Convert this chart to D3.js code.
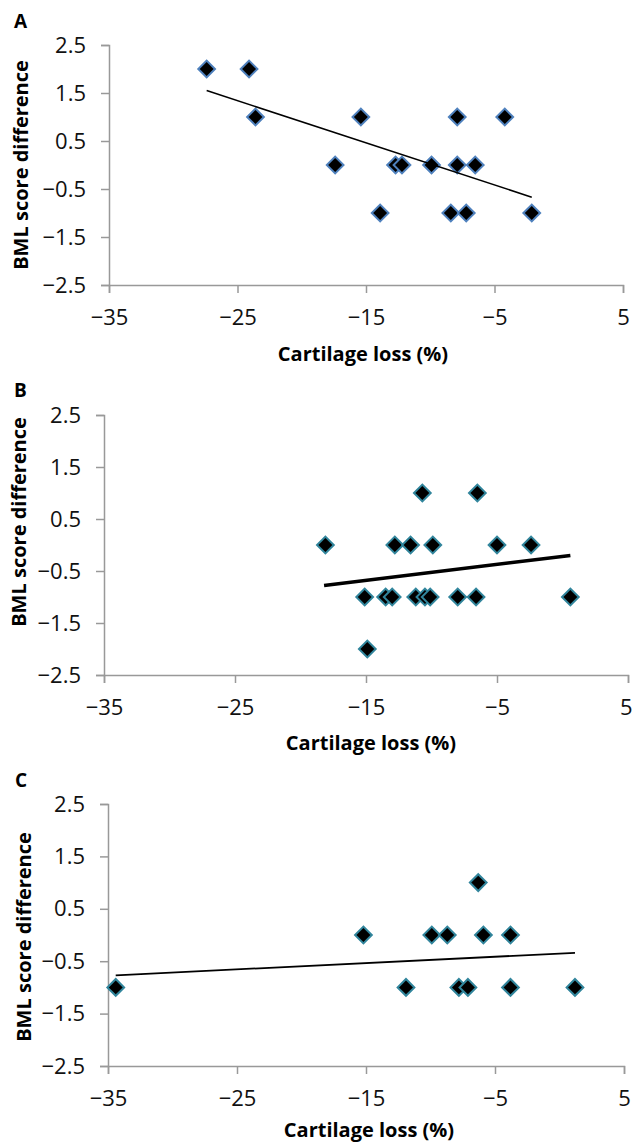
<!DOCTYPE html>
<html>
<head>
<meta charset="utf-8">
<script src="https://cdn.jsdelivr.net/npm/d3@7"></script>
<style>
  body { margin: 0; background: #fff; }
  svg { display: block; }
  .tick text { font-family: "Open Sans", sans-serif; font-size: 22px; fill: #111; }
  .axis path, .axis line { stroke: #999; stroke-width: 1.5; }
  .title { font-family: "Open Sans", sans-serif; font-size: 20px; font-weight: bold; }
</style>
</head>
<body>
<div id="chart"></div>
<script>
// Values (cartilage loss %, BML score difference)
const aX = [-27.4, -24.1, -23.6, -17.4, -15.4, -13.9, -12.7, -12.2, -9.9, -8.4, -7.9, -7.9, -7.2, -6.5, -4.2, -2.1];
const aY = [2, 2, 1, 0, 1, -1, 0, 0, 0, -1, 1, 0, -1, 0, 1, -1];

const bX = [-18.1, -15.1, -14.9, -13.5, -13.0, -12.8, -11.6, -11.2, -10.7, -10.5, -10.1, -9.9, -8.0, -6.6, -6.5, -5.0, -2.4, 0.6];
const bY = [0, -1, -2, -1, -1, 0, 0, -1, 1, -1, -1, 0, -1, -1, 1, 0, 0, -1];

const cX = [-34.4, -15.2, -11.9, -9.9, -8.7, -7.8, -7.1, -6.3, -5.9, -3.8, -3.8, 1.2];
const cY = [-1, 0, -1, 0, 0, -1, -1, 1, 0, 0, -1, -1];

// linear trendlines, start and end points
const trendA = [[-27.4, 1.55], [-2.1, -0.67]];
const trendB = [[-18.2, -0.78], [0.6, -0.20]];
const trendC = [[-34.4, -0.77], [1.2, -0.34]];

const xTicks = [-35, -25, -15, -5, 5];
const yTicks = [2.5, 1.5, 0.5, -0.5, -1.5, -2.5];

const width = 633;
const height = 1142;

const svg = d3.select("#chart")
    .append("svg")
    .attr("width", width)
    .attr("height", height);

const panels = [
    { letter: "A", xs: aX, ys: aY, trend: trendA, color: "#4f81bd", lineW: 1.6,
      left: 109, right: 623, top: 45, bottom: 285,
      letterX: 14, letterY: 28, yTitleX: 28, yTitleY: 165, xTitleX: 363, xTitleY: 361 },
    { letter: "B", xs: bX, ys: bY, trend: trendB, color: "#31859c", lineW: 3.5,
      left: 104, right: 628, top: 415, bottom: 675,
      letterX: 14, letterY: 397, yTitleX: 26, yTitleY: 522, xTitleX: 371, xTitleY: 750 },
    { letter: "C", xs: cX, ys: cY, trend: trendC, color: "#31859c", lineW: 1.8,
      left: 108, right: 624, top: 804, bottom: 1066,
      letterX: 15, letterY: 787, yTitleX: 31, yTitleY: 937, xTitleX: 369, xTitleY: 1137 }
];

const diamond = d3.symbol().type(d3.symbolSquare).size(140);

panels.forEach(p => {
    const xScale = d3.scaleLinear().domain([-35, 5]).range([p.left, p.right]);
    const yScale = d3.scaleLinear().domain([-2.5, 2.5]).range([p.bottom, p.top]);

    const g = svg.append("g");

    // axes
    const xAxisG = g.append("g")
        .attr("class", "axis")
        .attr("transform", `translate(0,${p.bottom})`)
        .call(d3.axisBottom(xScale)
            .tickValues(xTicks)
            .tickFormat(d3.format("d"))
            .tickSizeOuter(0)
            .tickSize(8)
            .tickPadding(16));

    // keep the last label inside the page
    xAxisG.selectAll(".tick text").each(function(d) {
        const over = xScale(d) + this.getBBox().width / 2 - (width - 1);
        if (over > 0) d3.select(this).attr("dx", -over);
    });

    g.append("g")
        .attr("class", "axis")
        .attr("transform", `translate(${p.left},0)`)
        .call(d3.axisLeft(yScale)
            .tickValues(yTicks)
            .tickFormat(d3.format(".1f"))
            .tickSizeOuter(0)
            .tickSize(8)
            .tickPadding(15));

    // points
    const pts = p.xs.map((x, i) => ({ x: x, y: p.ys[i] }));
    g.selectAll(".pt")
        .data(pts)
        .join("path")
        .attr("class", "pt")
        .attr("d", diamond)
        .attr("transform", d => `translate(${xScale(d.x)},${yScale(d.y)}) rotate(45)`)
        .attr("fill", "#000")
        .attr("stroke", p.color)
        .attr("stroke-width", 2);

    // trendline
    const line = d3.line()
        .x(d => xScale(d[0]))
        .y(d => yScale(d[1]));

    g.append("path")
        .datum(p.trend)
        .attr("fill", "none")
        .attr("stroke", "#000")
        .attr("stroke-width", p.lineW)
        .attr("d", line);

    // titles
    g.append("text")
        .attr("class", "title")
        .attr("x", p.xTitleX)
        .attr("y", p.xTitleY)
        .attr("text-anchor", "middle")
        .text("Cartilage loss (%)");

    g.append("text")
        .attr("class", "title")
        .attr("transform", `translate(${p.yTitleX},${p.yTitleY}) rotate(-90)`)
        .attr("text-anchor", "middle")
        .text("BML score difference");

    g.append("text")
        .attr("class", "title")
        .attr("x", p.letterX)
        .attr("y", p.letterY)
        .style("font-size", "19px")
        .text(p.letter);
});
</script>
</body>
</html>
